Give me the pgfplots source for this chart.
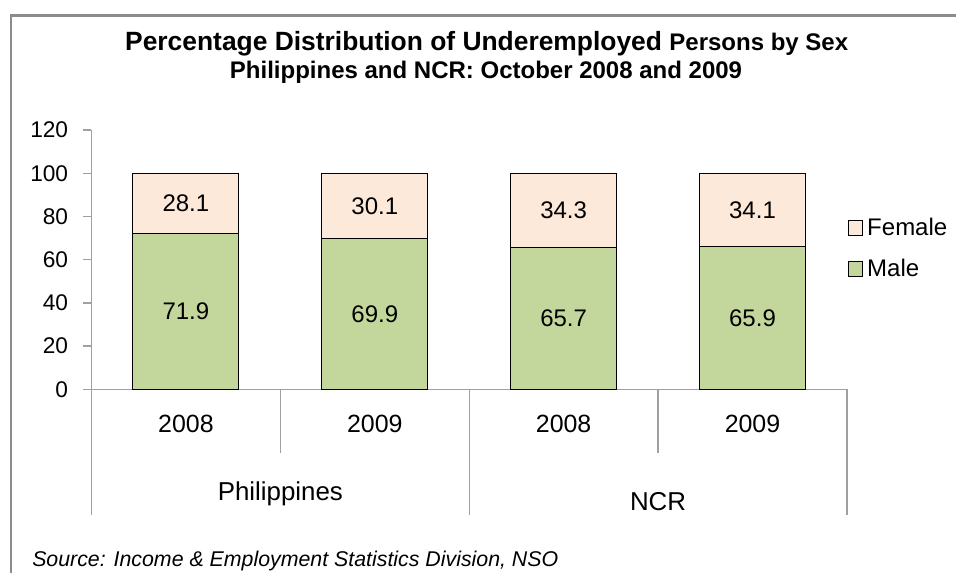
\documentclass[border=0pt]{standalone}
\usepackage{fontspec}
\setmainfont{Liberation Sans}
\usepackage{pgfplots}
\usepackage{pgfplotstable}
\pgfplotsset{compat=1.18}
\definecolor{malegreen}{HTML}{C3D69B}
\definecolor{femalepeach}{HTML}{FDE9D9}
\definecolor{framegray}{HTML}{8C8C8C}
\definecolor{axisgray}{HTML}{A0A0A0}

\pgfplotstableread{
x male female
0 71.9 28.1
1 69.9 30.1
2 65.7 34.3
3 65.9 34.1
}\datatable

\begin{document}
\begin{tikzpicture}
\useasboundingbox (0,0) rectangle (717pt,-429pt);
\fill[white] (0,0) rectangle (717pt,-429pt);
\draw[framegray, line width=1.9pt] (8.25pt,-440pt) -- (8.25pt,-11.5pt) -- (730pt,-11.5pt);

\begin{axis}[
  at={(68.6pt,-292pt)}, anchor=south west,
  scale only axis, width=566.6pt, height=194.5pt,
  ybar stacked, bar width=79.5pt,
  xmin=-0.5, xmax=3.5, ymin=0, ymax=120,
  ytick={0,20,...,120},
  xtick={0,1,2,3}, xticklabels={2008,2009,2008,2009},
  axis x line*=bottom, axis y line*=left,
  axis line style={axisgray, line width=1pt},
  tick align=center, major tick length=6pt,
  ytick style={axisgray, line width=1pt, xshift=-3pt},
  xtick style={draw=none},
  yticklabel style={font=\fontsize{17}{17}\selectfont, xshift=-11pt},
  xticklabel style={font=\fontsize{18.7}{18.7}\selectfont, anchor=center, yshift=-23pt},
  /pgf/number format/assume math mode=true,
  clip=false,
  reverse legend,
  legend style={at={(0.999,0.543)}, anchor=west, draw=none, fill=none,
    font=\fontsize{18}{18}\selectfont, row sep=14pt, inner xsep=1pt,
    nodes={inner xsep=3pt, inner ysep=1pt}},
  legend cell align=left,
  legend image code/.code={\draw[#1, draw=black, line width=0.6pt] (0pt,-5.5pt) rectangle (11pt,5.5pt);},
  every node near coord/.append style={font=\fontsize{18}{18}\selectfont, anchor=center, text=black},
]
\addplot[fill=malegreen, draw=black, line width=0.8pt,
  visualization depends on={\thisrow{male} \as \seg},
  nodes near coords={\pgfmathprintnumber[fixed,fixed zerofill,precision=1]{\seg}}]
  table[x=x, y=male] {\datatable};
\addlegendentry{Male}
\addplot[fill=femalepeach, draw=black, line width=0.8pt,
  visualization depends on={\thisrow{female} \as \seg},
  nodes near coords={\pgfmathprintnumber[fixed,fixed zerofill,precision=1]{\seg}}]
  table[x=x, y=female] {\datatable};
\addlegendentry{Female}

\draw[axisgray, line width=1pt] (axis cs:-0.5,0) -- ([yshift=-94.3pt]axis cs:-0.5,0);
\draw[axisgray, line width=1pt] (axis cs:0.5,0) -- ([yshift=-47.5pt]axis cs:0.5,0);
\draw[axisgray, line width=1pt] (axis cs:1.5,0) -- ([yshift=-94.3pt]axis cs:1.5,0);
\draw[axisgray, line width=1pt] (axis cs:2.5,0) -- ([yshift=-47.5pt]axis cs:2.5,0);
\draw[axisgray, line width=1pt] (axis cs:3.5,0) -- ([yshift=-94.3pt]axis cs:3.5,0);
\node[font=\fontsize{19.4}{19.4}\selectfont] at ([yshift=-78pt]axis cs:0.5,0) {Philippines};
\node[font=\fontsize{19.4}{19.4}\selectfont] at ([yshift=-84.3pt]axis cs:2.5,0) {NCR};
\end{axis}

\node[anchor=base, font=\bfseries] at (365pt,-38pt) {\fontsize{19.8}{19.8}\selectfont Percentage Distribution of Underemployed \fontsize{18}{18}\selectfont Persons by Sex};
\node[anchor=base, font=\bfseries\fontsize{18}{18}\selectfont] at (364.5pt,-58.7pt) {Philippines and NCR: October 2008 and 2009};
\node[anchor=base west, inner sep=0pt, font=\itshape\fontsize{16}{16}\selectfont] at (24pt,-425.2pt) {Source: Income \& Employment Statistics Division, NSO};
\end{tikzpicture}
\end{document}
